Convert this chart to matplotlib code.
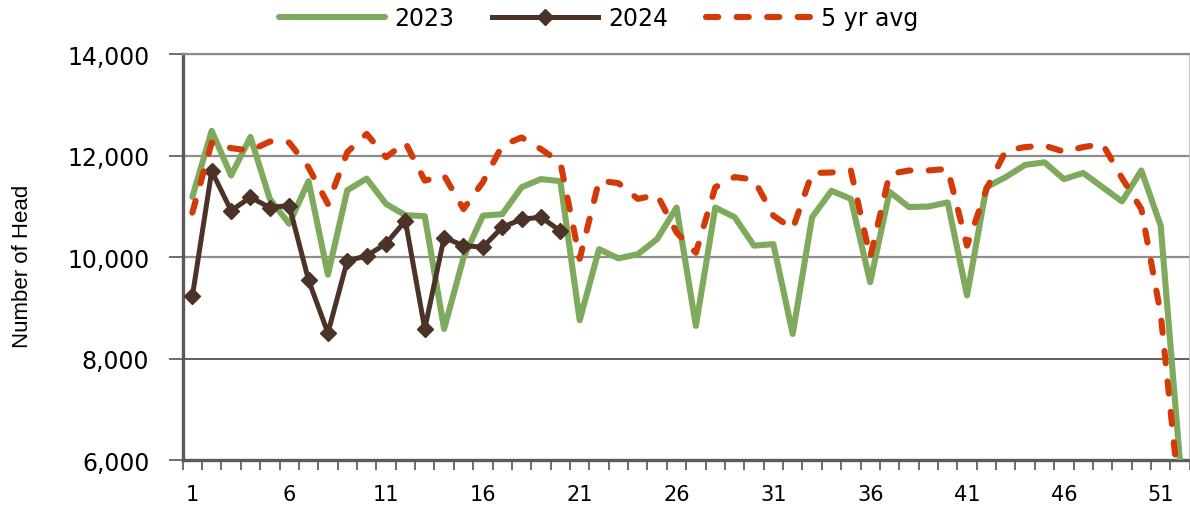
import matplotlib
matplotlib.use("Agg")
import matplotlib.pyplot as plt
from matplotlib.ticker import FuncFormatter, MultipleLocator, FixedLocator

weeks = list(range(1, 53))

y2023 = [11190, 12490, 11610, 12370, 11150, 10660, 11500, 9660, 11320, 11550,
         11050, 10830, 10810, 8590, 9990, 10820, 10850, 11380, 11540, 11500,
         8760, 10160, 9980, 10060, 10360, 10980, 8650, 10980, 10790, 10230,
         10260, 8490, 10790, 11310, 11150, 9510, 11290, 10990, 11000, 11080,
         9250, 11380, 11580, 11820, 11870, 11540, 11660, 11380, 11100, 11710,
         10620, 5950]

y2024 = [9230, 11700, 10920, 11180, 10980, 11020, 9550, 8510, 9930, 10030,
         10270, 10720, 8590, 10390, 10230, 10200, 10590, 10750, 10790, 10520]

y5avg = [10880, 12260, 12150, 12100, 12280, 12260, 11770, 11050, 12070, 12430,
         11970, 12260, 11510, 11610, 10950, 11480, 12200, 12360, 12130, 11870,
         9970, 11510, 11460, 11150, 11230, 10490, 10090, 11380, 11580, 11530,
         10820, 10560, 11660, 11670, 11710, 10000, 11640, 11710, 11710, 11740,
         10230, 11340, 12100, 12170, 12200, 12080, 12170, 12230, 11560, 10950,
         8880, 5150]

series_labels = ["2023", "2024", "5 yr avg"]
y_ticks = [6000, 8000, 10000, 12000, 14000]
x_tick_labels = [1, 6, 11, 16, 21, 26, 31, 36, 41, 46, 51]

GREEN = "#7FAA5E"
BROWN = "#4B3427"
RED = "#D43A08"

fig = plt.figure(figsize=(11.9, 5.06), dpi=100)
ax = fig.add_axes([0.1535, 0.088, 0.8463, 0.803])

ax.plot(weeks, y2023, color=GREEN, lw=4.4, solid_capstyle="round",
        solid_joinstyle="round", label=series_labels[0], zorder=3)
ax.plot(weeks[:len(y2024)], y2024, color=BROWN, lw=3.6, marker="D", ms=8,
        mec=BROWN, mfc=BROWN, solid_joinstyle="round", label=series_labels[1], zorder=4)
ax.plot(weeks, y5avg, color=RED, lw=4.4, dashes=(2.0, 3.0), dash_capstyle="round",
        label=series_labels[2], zorder=5)

ax.set_xlim(0.5, 52.5)
ax.set_ylim(6000, 14000)

ax.yaxis.set_major_locator(FixedLocator(y_ticks))
ax.yaxis.set_major_formatter(FuncFormatter(lambda v, p: f"{int(v):,}"))
ax.xaxis.set_major_locator(FixedLocator(x_tick_labels))
ax.xaxis.set_minor_locator(MultipleLocator(1, offset=0.5))
ax.tick_params(axis="x", which="major", length=0, pad=17, labelsize=15)
ax.tick_params(axis="x", which="minor", length=7, width=1.2, color="#555555", direction="out")
ax.tick_params(axis="y", which="major", length=10, width=1.2, color="#555555",
               pad=14, labelsize=17)

ax.grid(axis="y", color="#8C8C8C", lw=1.6, zorder=1)
gl = ax.yaxis.get_gridlines()
gl[1].set_color("#333333")
gl[1].set_linewidth(1.1)
gl[0].set_visible(False)

for s in ["left", "bottom"]:
    ax.spines[s].set_color("#5A5A5A")
    ax.spines[s].set_linewidth(2.4)
ax.spines["top"].set_color("#8C8C8C")
ax.spines["top"].set_linewidth(1.6)
ax.spines["right"].set_color("#BBBBBB")
ax.spines["right"].set_linewidth(1.2)
ax.set_axisbelow(True)

ax.set_ylabel("Number of Head", family=["Liberation Sans", "DejaVu Sans"],
              fontsize=16)
ax.yaxis.set_label_coords(-0.1487, 0.48)

fig.legend(loc="center", bbox_to_anchor=(0.503, 0.962), ncol=3, frameon=False,
           fontsize=17, handlelength=4.5, handletextpad=0.4, columnspacing=1.6,
           numpoints=1)

fig.savefig("out.png", dpi=100)
